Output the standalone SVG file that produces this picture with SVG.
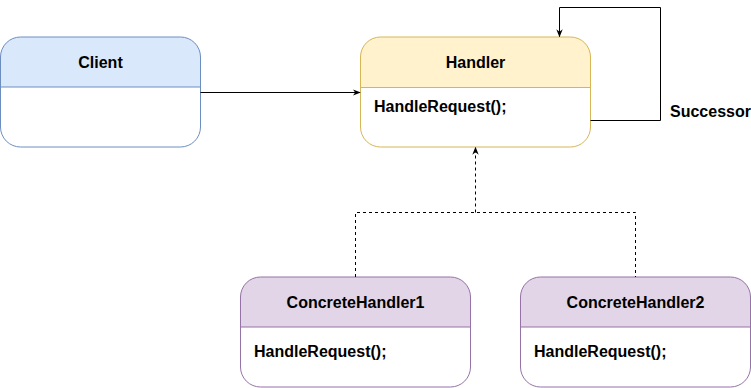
<svg xmlns="http://www.w3.org/2000/svg" width="751" height="388" viewBox="0 0 751 388">
<defs>
<style>
.t{font-family:"Liberation Sans",Arial,sans-serif;font-weight:bold;font-size:16px;fill:#000}
.c{text-anchor:middle}
.ln{fill:none;stroke:#000;stroke-width:1}
.d{stroke-dasharray:3 3}
</style>
<marker id="a" viewBox="0 0 10 10" refX="9" refY="5" markerWidth="8" markerHeight="8" orient="auto" markerUnits="userSpaceOnUse">
<path d="M0,1 L10,5 L0,9 L3,5 Z" fill="#000"/>
</marker>
</defs>
<rect width="751" height="388" fill="#fff"/>
<g id="client">
<path d="M0.5,87 V57 A20,20 0 0 1 20.5,37 H180.5 A20,20 0 0 1 200.5,57 V87 Z" fill="#dae8fc"/>
<rect x="0.5" y="37" width="200" height="110" rx="20" fill="none" stroke="#6c8ebf"/>
<line x1="0.5" y1="87" x2="200.5" y2="87" stroke="#6c8ebf"/>
<text class="t c" x="100.5" y="68">Client</text>
</g>
<g id="handler">
<path d="M360.5,87 V57 A20,20 0 0 1 380.5,37 H570.5 A20,20 0 0 1 590.5,57 V87 Z" fill="#fff2cc"/>
<rect x="360.5" y="37" width="230" height="110" rx="20" fill="none" stroke="#d6b656"/>
<line x1="360.5" y1="87.5" x2="590.5" y2="87.5" stroke="#d6b656"/>
<text class="t c" x="475.5" y="68">Handler</text>
<text class="t" x="374" y="112">HandleRequest();</text>
</g>
<g id="concrete1">
<path d="M240.5,327 V297 A20,20 0 0 1 260.5,277 H450.5 A20,20 0 0 1 470.5,297 V327 Z" fill="#e1d5e7"/>
<rect x="240.5" y="277" width="230" height="110" rx="20" fill="none" stroke="#9673a6"/>
<line x1="240.5" y1="327" x2="470.5" y2="327" stroke="#9673a6"/>
<text class="t c" x="355.5" y="308">ConcreteHandler1</text>
<text class="t" x="254" y="357">HandleRequest();</text>
</g>
<g id="concrete2">
<path d="M520.5,327 V297 A20,20 0 0 1 540.5,277 H730.5 A20,20 0 0 1 750.5,297 V327 Z" fill="#e1d5e7"/>
<rect x="520.5" y="277" width="230" height="110" rx="20" fill="none" stroke="#9673a6"/>
<line x1="520.5" y1="327" x2="750.5" y2="327" stroke="#9673a6"/>
<text class="t c" x="635.5" y="308">ConcreteHandler2</text>
<text class="t" x="534" y="357">HandleRequest();</text>
</g>
<g id="connectors">
<line class="ln" x1="200.5" y1="92.5" x2="360" y2="92.5" marker-end="url(#a)"/>
<polyline class="ln" points="590.5,120.5 660.5,120.5 660.5,7.5 559.5,7.5 559.5,36.5" marker-end="url(#a)"/>
<polyline class="ln d" points="355.5,277 355.5,212.5 635.5,212.5 635.5,277"/>
<line class="ln d" x1="475.5" y1="212.5" x2="475.5" y2="147.5" marker-end="url(#a)"/>
<text class="t" x="670" y="117">Successor</text>
</g>
</svg>
